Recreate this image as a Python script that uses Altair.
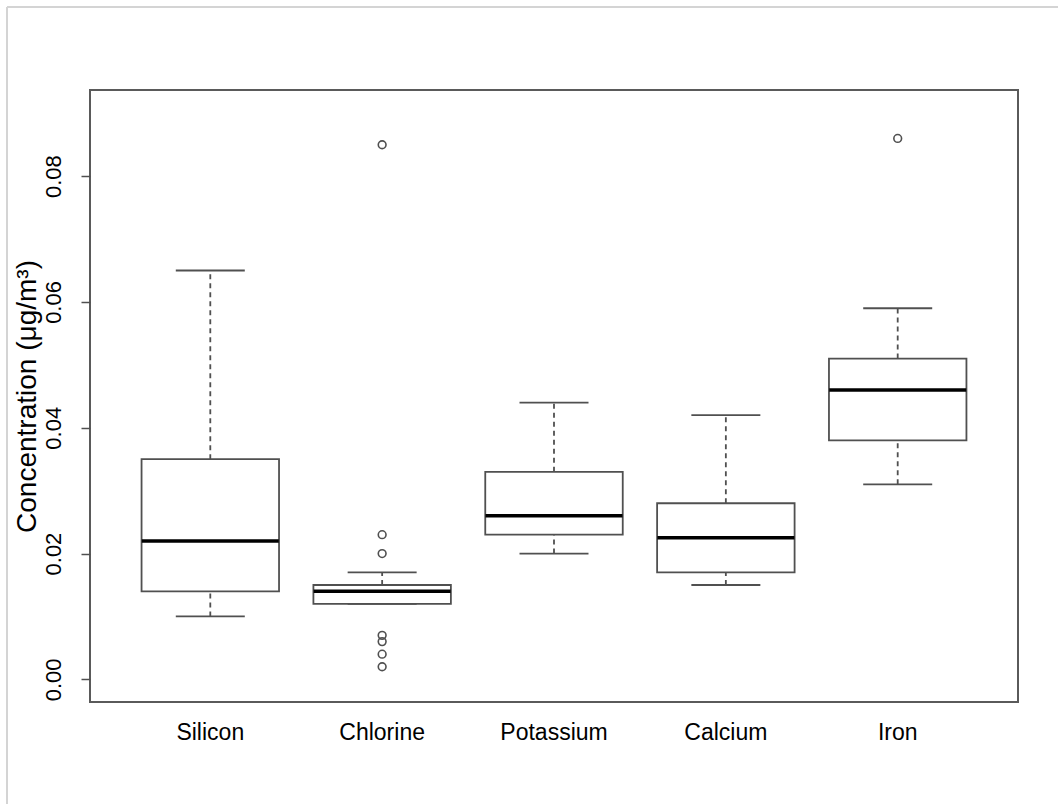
import altair as alt
import pandas as pd

# Summary statistics per element (concentration, µg/m³)
elements = ["Silicon", "Chlorine", "Potassium", "Calcium", "Iron"]
whisker_low = [0.010, 0.012, 0.020, 0.015, 0.031]
quartile_1 = [0.014, 0.012, 0.023, 0.017, 0.038]
medians = [0.022, 0.014, 0.026, 0.0225, 0.046]
quartile_3 = [0.035, 0.015, 0.033, 0.028, 0.051]
whisker_high = [0.065, 0.017, 0.044, 0.042, 0.059]

# Points beyond the whiskers
outlier_elements = ["Chlorine"] * 7 + ["Iron"]
outlier_values = [0.085, 0.023, 0.020, 0.007, 0.006, 0.004, 0.002, 0.086]

y_ticks = [0.00, 0.02, 0.04, 0.06, 0.08]

stats = pd.DataFrame({
    "element": elements,
    "lo": whisker_low,
    "q1": quartile_1,
    "median": medians,
    "q3": quartile_3,
    "hi": whisker_high,
})
outliers = pd.DataFrame({"element": outlier_elements, "value": outlier_values})

LINE = "#505050"
FONT = "Liberation Sans"
TITLE = "Concentration (μg/m³)"

x_enc = alt.X(
    "element:N",
    scale=alt.Scale(domain=elements, paddingInner=0.2, paddingOuter=0.3),
    axis=alt.Axis(title=None, ticks=False, domain=False, labelAngle=0,
                  labelFontSize=23, labelPadding=19, labelColor="black",
                  labelFont=FONT),
)
y_scale = alt.Scale(domain=[-0.0036, 0.0937], nice=False, zero=False)
y_axis = alt.Axis(
    title=TITLE, values=y_ticks, format=".2f", grid=False, domain=False,
    tickSize=9, tickColor=LINE, tickWidth=1.5,
    labelAngle=270, labelAlign="center", labelBaseline="bottom",
    labelPadding=16, labelFontSize=22, labelColor="black", labelFont=FONT,
    titleFontSize=28, titleFont=FONT, titleFontWeight="normal",
    titleColor="black", titlePadding=1,
)


def y(field):
    return alt.Y(f"{field}:Q", scale=y_scale, axis=y_axis)


base = alt.Chart(stats)

upper_whisker = base.mark_rule(color=LINE, strokeWidth=1.8, strokeDash=[5, 4]).encode(
    x=x_enc, y=y("q3"), y2="hi")
lower_whisker = base.mark_rule(color=LINE, strokeWidth=1.8, strokeDash=[5, 4]).encode(
    x=x_enc, y=y("lo"), y2="q1")
upper_cap = base.mark_tick(orient="horizontal", size=69, thickness=1.8,
                           color=LINE, opacity=1).encode(x=x_enc, y=y("hi"))
lower_cap = base.mark_tick(orient="horizontal", size=69, thickness=1.8,
                           color=LINE, opacity=1).encode(x=x_enc, y=y("lo"))
box = base.mark_rect(fill="white", stroke=LINE, strokeWidth=1.8).encode(
    x=x_enc, y=y("q1"), y2="q3")
median_line = base.mark_tick(orient="horizontal", size=137, thickness=3.5,
                             color="black", opacity=1).encode(x=x_enc, y=y("median"))
points = alt.Chart(outliers).mark_point(
    shape="circle", filled=False, size=60, strokeWidth=1.6, color=LINE, opacity=1
).encode(x=x_enc, y=y("value"))

# Light page border along the top and left edges
edge = pd.DataFrame({"k": [0]})
top_edge = alt.Chart(edge).mark_rule(color="#d4d4d4", strokeWidth=2).encode(
    x=alt.value(-83), x2=alt.value(968), y=alt.value(-83))
left_edge = alt.Chart(edge).mark_rule(color="#d4d4d4", strokeWidth=2).encode(
    x=alt.value(-83), y=alt.value(-83), y2=alt.value(714))

chart = alt.layer(
    upper_whisker, lower_whisker, upper_cap, lower_cap, box, median_line, points,
    top_edge, left_edge,
).properties(
    width=928,
    height=612,
    padding={"left": 90, "top": 90, "right": 40, "bottom": 102},
    autosize=alt.AutoSizeParams(type="none"),
    background="white",
).configure_view(
    stroke="#5a5a5a", strokeWidth=2
)

chart.save("out.html", embed_options={"renderer": "svg", "actions": False})
